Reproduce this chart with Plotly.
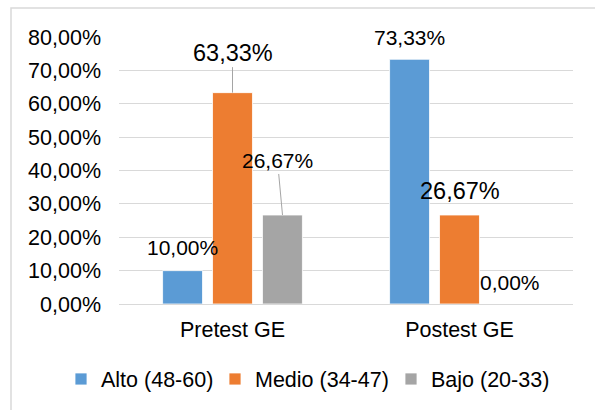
import plotly.graph_objects as go

categories = ["Pretest GE", "Postest GE"]
series_names = ["Alto (48-60)", "Medio (34-47)", "Bajo (20-33)"]
alto = [0.10, 0.7333]
medio = [0.6333, 0.2667]
bajo = [0.2667, 0.0]
colors = ["#5B9BD5", "#ED7D31", "#A5A5A5"]
y_ticks = [0, 0.1, 0.2, 0.3, 0.4, 0.5, 0.6, 0.7, 0.8]

series = [alto, medio, bajo]
legend_ids = ["legend", "legend2", "legend3"]

fig = go.Figure()
for name, vals, col, lid in zip(series_names, series, colors, legend_ids):
    fig.add_trace(go.Bar(
        x=categories, y=vals, name=name, legend=lid, hoverinfo="skip",
        marker=dict(color=col, line=dict(color="white", width=0.8)),
    ))

FONT = "Liberation Sans, Arial, sans-serif"

# label style per (series index, category index): xshift, yshift, size, arrow
label_style = {
    (0, 0): dict(dx=0, dy=23, size=21, arrow=None),
    (1, 0): dict(dx=0, dy=40, size=23.5, arrow=True),
    (2, 0): dict(dx=-5, dy=54, size=21, arrow=True),
    (0, 1): dict(dx=0, dy=22, size=21, arrow=None),
    (1, 1): dict(dx=0, dy=24, size=23.5, arrow=None),
    (2, 1): dict(dx=0, dy=22, size=21, arrow=None),
}
offsets = [-50, 0, 50]

annotations = []
for si, vals in enumerate(series):
    for ci, v in enumerate(vals):
        st = label_style[(si, ci)]
        txt = f"{v*100:.2f}%".replace(".", ",")
        if st["arrow"]:
            annotations.append(dict(
                x=categories[ci], y=v, xref="x", yref="y",
                xshift=offsets[si], text=txt, showarrow=True,
                arrowhead=0, arrowwidth=1, arrowcolor="#A5A5A5",
                ax=st["dx"], ay=-st["dy"], standoff=0,
                font=dict(family=FONT, size=st["size"], color="#000000"),
            ))
        else:
            annotations.append(dict(
                x=categories[ci], y=v, xref="x", yref="y",
                xshift=offsets[si] + st["dx"], yshift=st["dy"],
                text=txt, showarrow=False, yanchor="middle",
                font=dict(family=FONT, size=st["size"], color="#000000"),
            ))

L, R, T, B = 119, 22, 37, 106
W, H = 595, 410
pw, ph = W - L - R, H - T - B

def px_x(p):
    return (p - L) / pw

def px_y(p):
    return (H - B - p) / ph

def legend_at(sym_left):
    return dict(orientation="h", xref="container", yref="container",
                x=(sym_left - 18) / W, xanchor="left",
                y=1 - 379 / H, yanchor="middle",
                font=dict(family=FONT, size=21.5, color="#000000"),
                itemwidth=30, tracegroupgap=0, bgcolor="rgba(0,0,0,0)")

fig.update_layout(
    width=W, height=H,
    margin=dict(l=L, r=R, t=T, b=B, autoexpand=False),
    paper_bgcolor="white", plot_bgcolor="white",
    separators=",.",
    barmode="group", bargap=0.34, bargroupgap=0.2,
    font=dict(family=FONT, size=21.5, color="#000000"),
    showlegend=True,
    legend=legend_at(79),
    legend2=legend_at(233),
    legend3=legend_at(409),
    annotations=annotations,
    shapes=[dict(type="rect", xref="paper", yref="paper",
                 x0=px_x(11), x1=px_x(620), y0=px_y(430), y1=px_y(8),
                 line=dict(color="#D9D9D9", width=1.5), layer="below")],
)
fig.update_yaxes(range=[0, 0.8], tickvals=y_ticks, tickformat=".2%",
                 showgrid=True, gridcolor="#D9D9D9", gridwidth=1,
                 zeroline=False, showline=False, ticks="",
                 ticklabelstandoff=17, automargin=False,
                 tickfont=dict(family=FONT, size=21.5, color="#000000"))
fig.update_xaxes(showline=True, linecolor="#D9D9D9", linewidth=1,
                 ticks="", automargin=False,
                 tickfont=dict(family=FONT, size=21.5, color="#000000"),
                 ticklabelstandoff=6)

fig.write_html("out.html", config={"displayModeBar": False},
               post_script="document.body.style.margin='0px';document.body.style.overflow='hidden';")
